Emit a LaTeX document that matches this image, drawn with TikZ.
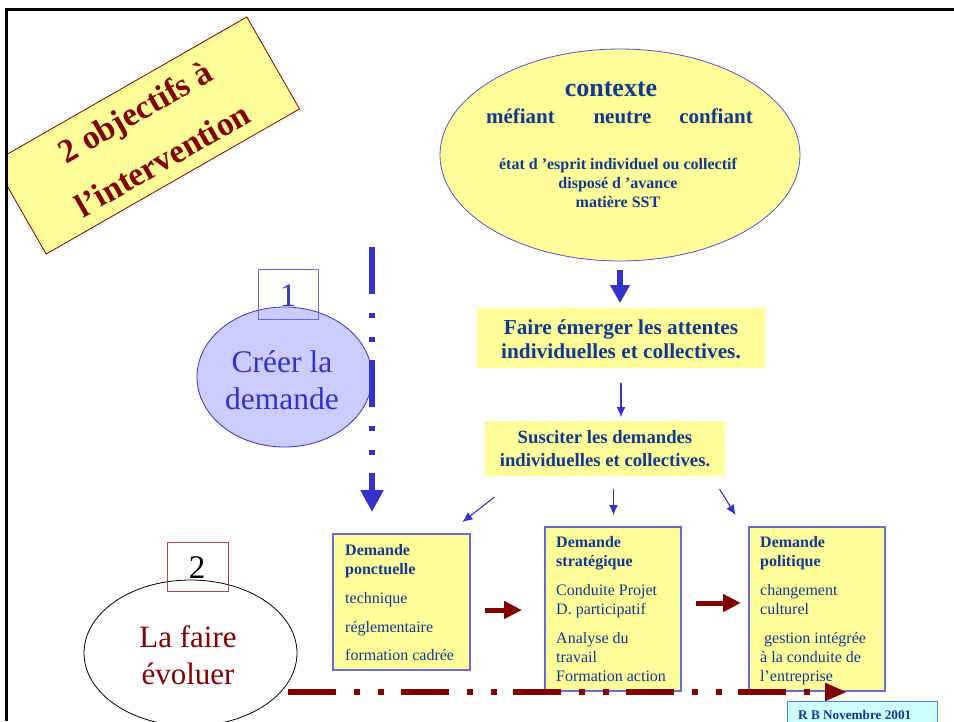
\documentclass[tikz,border=0pt]{standalone}
\usepackage{fontspec}
\setmainfont{Liberation Serif}
\usetikzlibrary{arrows.meta,shapes.geometric}
\definecolor{yel}{HTML}{FFFF99}
\definecolor{navy}{HTML}{12398F}
\definecolor{ablue}{HTML}{3333CC}
\definecolor{dred}{HTML}{800000}
\definecolor{lav}{HTML}{CCCCFF}
\definecolor{bbord}{HTML}{6B6BD6}
\definecolor{cyanf}{HTML}{CCFFFF}
\definecolor{rbord}{HTML}{A84A4A}
\definecolor{rbbord}{HTML}{4F86E3}
\tikzset{
  yfill/.style={fill=yel, inner sep=0, outer sep=0, anchor=north west},
  dbox/.style={draw=bbord, line width=1.1pt, fill=yel, inner sep=0, outer sep=0, anchor=north west},
  numbox/.style={line width=0.9pt, inner sep=0, outer sep=0, anchor=north west, minimum width=61, minimum height=50},
  navytxt/.style={text=navy, inner sep=0, anchor=base},
  boxtxt/.style={text=navy, inner sep=0, anchor=base west, align=left, font=\fontsize{16}{19}\selectfont},
  bigblue/.style={draw=ablue, line width=6pt, -{Triangle[length=18pt,width=19pt]}},
  thinblue/.style={draw=ablue, line width=1.1pt, -{Latex[length=10pt,width=9pt]}},
  redarrow/.style={draw=dred, line width=5pt, -{Triangle[length=18pt,width=17pt]}},
}
\begin{document}
\begin{tikzpicture}[x=1pt,y=-1pt]
\useasboundingbox (0,0) rectangle (954,721);
\clip (0,0) rectangle (954,721);
\fill[white] (0,0) rectangle (954,721);

% title box
\begin{scope}
\clip (6,0) rectangle (954,721);
\node[draw=dred, line width=0.8pt, fill=yel, rotate=29.8, minimum width=292, minimum height=106, inner sep=0] (title) at (146.5,135.5) {};
\end{scope}
\node[rotate=29.8, text=dred, font=\bfseries\fontsize{33.5}{55}\selectfont, align=center, inner sep=0] (titletxt) at ([xshift=2pt]title.center) {2 objectifs à\\l’intervention};

% frame
\draw[line width=3pt] (6,721) -- (6,9) -- (954,9);

% contexte
\node[ellipse, draw=ablue!85, line width=0.8pt, fill=yel, minimum width=360, minimum height=212, inner sep=0, outer sep=0] (ctx) at (620,155) {};
\node[navytxt, font=\bfseries\fontsize{26}{30}\selectfont] (ctxt) at (611,96) {contexte};
\node[navytxt, font=\bfseries\fontsize{21}{24}\selectfont] (mef) at (520.5,123) {méfiant};
\node[navytxt, font=\bfseries\fontsize{21}{24}\selectfont] (neu) at (622.5,123) {neutre};
\node[navytxt, font=\bfseries\fontsize{21}{24}\selectfont] (conf) at (716,123) {confiant};
\node[navytxt, font=\bfseries\fontsize{16}{19}\selectfont, align=center] (etat) at (618,207) {état d ’esprit individuel ou collectif\\disposé d ’avance\\matière SST};

% Faire emerger
\node[yfill, minimum width=288, minimum height=60] (faire) at (477,308) {};
\node[navytxt, font=\bfseries\fontsize{21.3}{24}\selectfont, align=center] (fairet) at (621,358) {Faire émerger les attentes\\individuelles et collectives.};

% Susciter
\node[yfill, minimum width=240, minimum height=55] (susc) at (485,421) {};
\node[navytxt, font=\bfseries\fontsize{18.7}{23}\selectfont, align=center] (susct) at (605,466) {Susciter les demandes\\individuelles et collectives.};

\draw[bigblue, shorten <=9pt, shorten >=5pt] (ctx.south) -- (ctx.south |- faire.north);
\draw[thinblue, shorten <=15pt, shorten >=4pt] (faire.south) -- (faire.south |- susc.north);

% Creer la demande
\node[ellipse, draw=ablue, line width=0.8pt, fill=lav, minimum width=175, minimum height=140, inner sep=0, outer sep=0] (creer) at (284.5,377) {};
\node[text=ablue, font=\fontsize{31.5}{37}\selectfont, align=center, inner sep=0, anchor=base] (creert) at (282,409) {Créer la\\demande};
\node[numbox, draw=bbord, minimum width=60] (b1) at (258,269) {};
\node[text=ablue, font=\fontsize{33}{36}\selectfont, inner sep=0, anchor=base] (b1t) at (288,306) {1};

% vertical dash-dot
\coordinate (vtop) at (372,247);
\coordinate (vbot) at (372,512);
\draw[ablue, line width=6pt, dash pattern=on 47pt off 19pt on 5pt off 19pt on 5pt off 18pt, -{Triangle[length=22pt,width=22pt]}] (vtop) -- (vbot);

% demand boxes
\node[dbox, minimum width=137, minimum height=136] (pon) at (333,534) {};
\node[boxtxt] (pont) at (345,660) {\textbf{Demande}\\\textbf{ponctuelle}\\[10pt]technique\\[10pt]réglementaire\\[9pt]formation cadrée};

\node[dbox, minimum width=136, minimum height=164] (strat) at (545,527) {};
\node[boxtxt] (stratt) at (556,681) {\textbf{Demande}\\\textbf{stratégique}\\[10pt]Conduite Projet\\D. participatif\\[10pt]Analyse du\\travail\\Formation action};

\node[dbox, minimum width=136, minimum height=164] (pol) at (749,527) {};
\node[boxtxt] (polt) at (760,681) {\textbf{Demande}\\\textbf{politique}\\[10pt]changement\\culturel\\[10pt]\hspace*{4pt}gestion intégrée\\à la conduite de\\l’entreprise};

% arrows from Susciter
\coordinate (s1a) at (494.5,497);
\coordinate (s1b) at (462.5,522);
\coordinate (s2a) at (613.5,489);
\coordinate (s2b) at (613.5,515);
\coordinate (s3a) at (719.5,489);
\coordinate (s3b) at (735.5,515);
\draw[thinblue] (s1a) -- (s1b);
\draw[thinblue] (s2a) -- (s2b);
\draw[thinblue] (s3a) -- (s3b);

% red arrows between boxes
\coordinate (r1a) at (485,610);
\coordinate (r1b) at (522,610);
\coordinate (r2a) at (696,603);
\coordinate (r2b) at (741,603);
\draw[redarrow] (r1a) -- (r1b);
\draw[redarrow] (r2a) -- (r2b);

% La faire evoluer
\node[ellipse, draw=black, line width=0.8pt, minimum width=213, minimum height=146, inner sep=0, outer sep=0] (evol) at (190.5,653) {};
\node[text=dred, font=\fontsize{31}{37}\selectfont, align=center, inner sep=0, anchor=base] (evolt) at (188,684) {La faire\\évoluer};
\node[numbox, draw=rbord, minimum height=49] (b2) at (167,542) {};
\node[text=black, font=\fontsize{33}{36}\selectfont, inner sep=0, anchor=base] (b2t) at (197,578) {2};

% red dash-dot line
\coordinate (htop) at (288,692);
\coordinate (hend) at (847,692);
\draw[dred, line width=5.5pt, dash pattern=on 48pt off 18pt on 6pt off 18pt on 6pt off 16.5pt, -{Triangle[length=22pt,width=17pt]}] (htop) -- (hend);

% RB box
\node[draw=rbbord, line width=1pt, fill=cyanf, inner sep=0, outer sep=0, anchor=north west, minimum width=150, minimum height=28] (rb) at (787,701) {};
\node[text=navy, font=\bfseries\fontsize{13.2}{15}\selectfont, inner sep=0, anchor=base west] (rbt) at (798,719) {R B Novembre 2001};
\end{tikzpicture}
\end{document}
